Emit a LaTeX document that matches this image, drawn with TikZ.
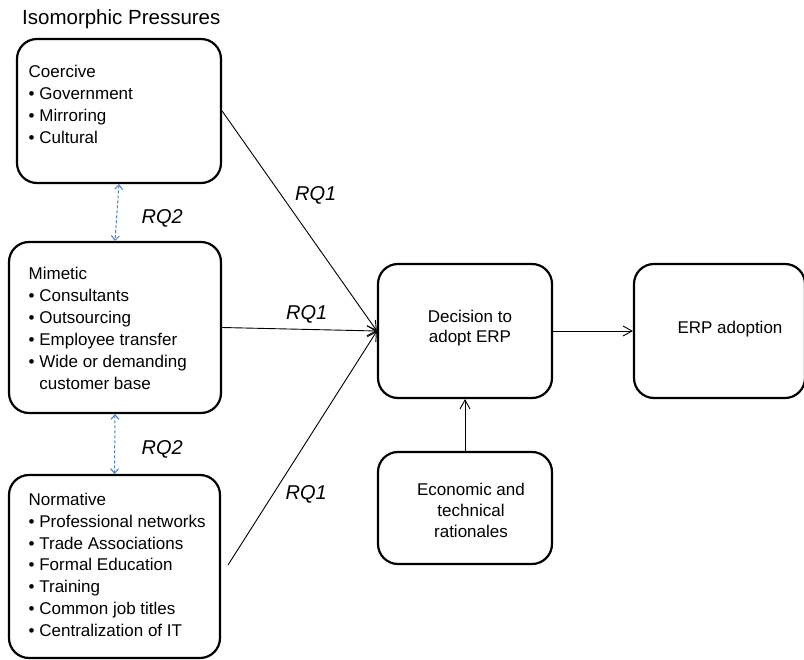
\documentclass[tikz,border=0pt]{standalone}
\usepackage{fontspec}
\setmainfont{Liberation Sans}
\usetikzlibrary{arrows.meta,calc}
\definecolor{rqblue}{RGB}{74,126,193}
\begin{document}
\begin{tikzpicture}[x=1pt,y=-1pt,
  box/.style={draw, line width=2.2pt, rounded corners=20pt, inner sep=0pt},
  txt/.style={inner sep=0pt, anchor=base west, font=\fontsize{17}{22}\selectfont},
  ctxt/.style={inner sep=0pt, anchor=base},
  rq/.style={inner sep=0pt, anchor=base west, font=\fontsize{20}{24}\selectfont\itshape},
  arr/.style={line width=0.9pt, -{Straight Barb[length=9pt,width=10pt]}},
  blu/.style={rqblue, line width=1pt, dash pattern=on 3pt off 2pt, {Straight Barb[length=4.5pt,width=8pt]}-{Straight Barb[length=4.5pt,width=8pt]}}
]
\useasboundingbox (0,0) rectangle (804,660);

\node[inner sep=0pt, anchor=base west, font=\fontsize{20.5}{24}\selectfont] (title) at (22,25) {Isomorphic Pressures};

% boxes
\node[box, minimum width=204pt, minimum height=144pt] (coer) at (119,111) {};
\node[box, minimum width=212pt, minimum height=171pt] (mim) at (115,327.5) {};
\node[box, minimum width=211pt, minimum height=183pt] (norm) at (114.5,566.5) {};
\node[box, minimum width=174pt, minimum height=134pt] (dec) at (465,331) {};
\node[box, minimum width=171pt, minimum height=134pt] (erp) at (719.5,331) {};
\node[box, minimum width=174pt, minimum height=112pt] (econ) at (465,508) {};

% box texts
\node[txt] (coerT) at (28.5,77.5) {\begin{tabular}[t]{@{}l@{}}Coercive\\• Government\\• Mirroring\\• Cultural\end{tabular}};
\node[txt] (mimT) at (28.5,280) {\begin{tabular}[t]{@{}l@{}}Mimetic\\• Consultants\\• Outsourcing\\• Employee transfer\\• Wide or demanding\\\phantom{• }customer base\end{tabular}};
\node[txt] (normT) at (28.5,505) {\begin{tabular}[t]{@{}l@{}}Normative\\• Professional networks\\• Trade Associations\\• Formal Education\\• Training\\• Common job titles\\• Centralization of IT\end{tabular}};
\node[ctxt, font=\fontsize{17}{20}\selectfont] (decT) at (470,323) {\begin{tabular}[t]{@{}c@{}}Decision to\\adopt ERP\end{tabular}};
\node[ctxt, font=\fontsize{17}{20}\selectfont] (erpT) at (730,334) {ERP adoption};
\node[ctxt, font=\fontsize{17}{21}\selectfont] (econT) at (471,495.5) {\begin{tabular}[t]{@{}c@{}}Economic and\\technical\\rationales\end{tabular}};

% connectors
\coordinate (nstart) at (228,565);
\draw[arr] (coer.east) -- (dec.west);
\draw[arr] (mim.east) -- (dec.west);
\draw[arr] (nstart) -- (dec.west);
\draw[arr] (dec.east) -- (erp.west);
\draw[arr] (econ.north) -- (dec.south);
\draw[blu] (coer.south) -- (mim.north);
\draw[blu] (mim.south) -- (norm.north);

% labels
\node[rq] (rq1a) at (295,201) {RQ1};
\node[rq] (rq1b) at (286,320) {RQ1};
\node[rq] (rq1c) at (285.5,500) {RQ1};
\node[rq] (rq2a) at (141.5,224) {RQ2};
\node[rq] (rq2b) at (141.5,455) {RQ2};
\end{tikzpicture}
\end{document}
